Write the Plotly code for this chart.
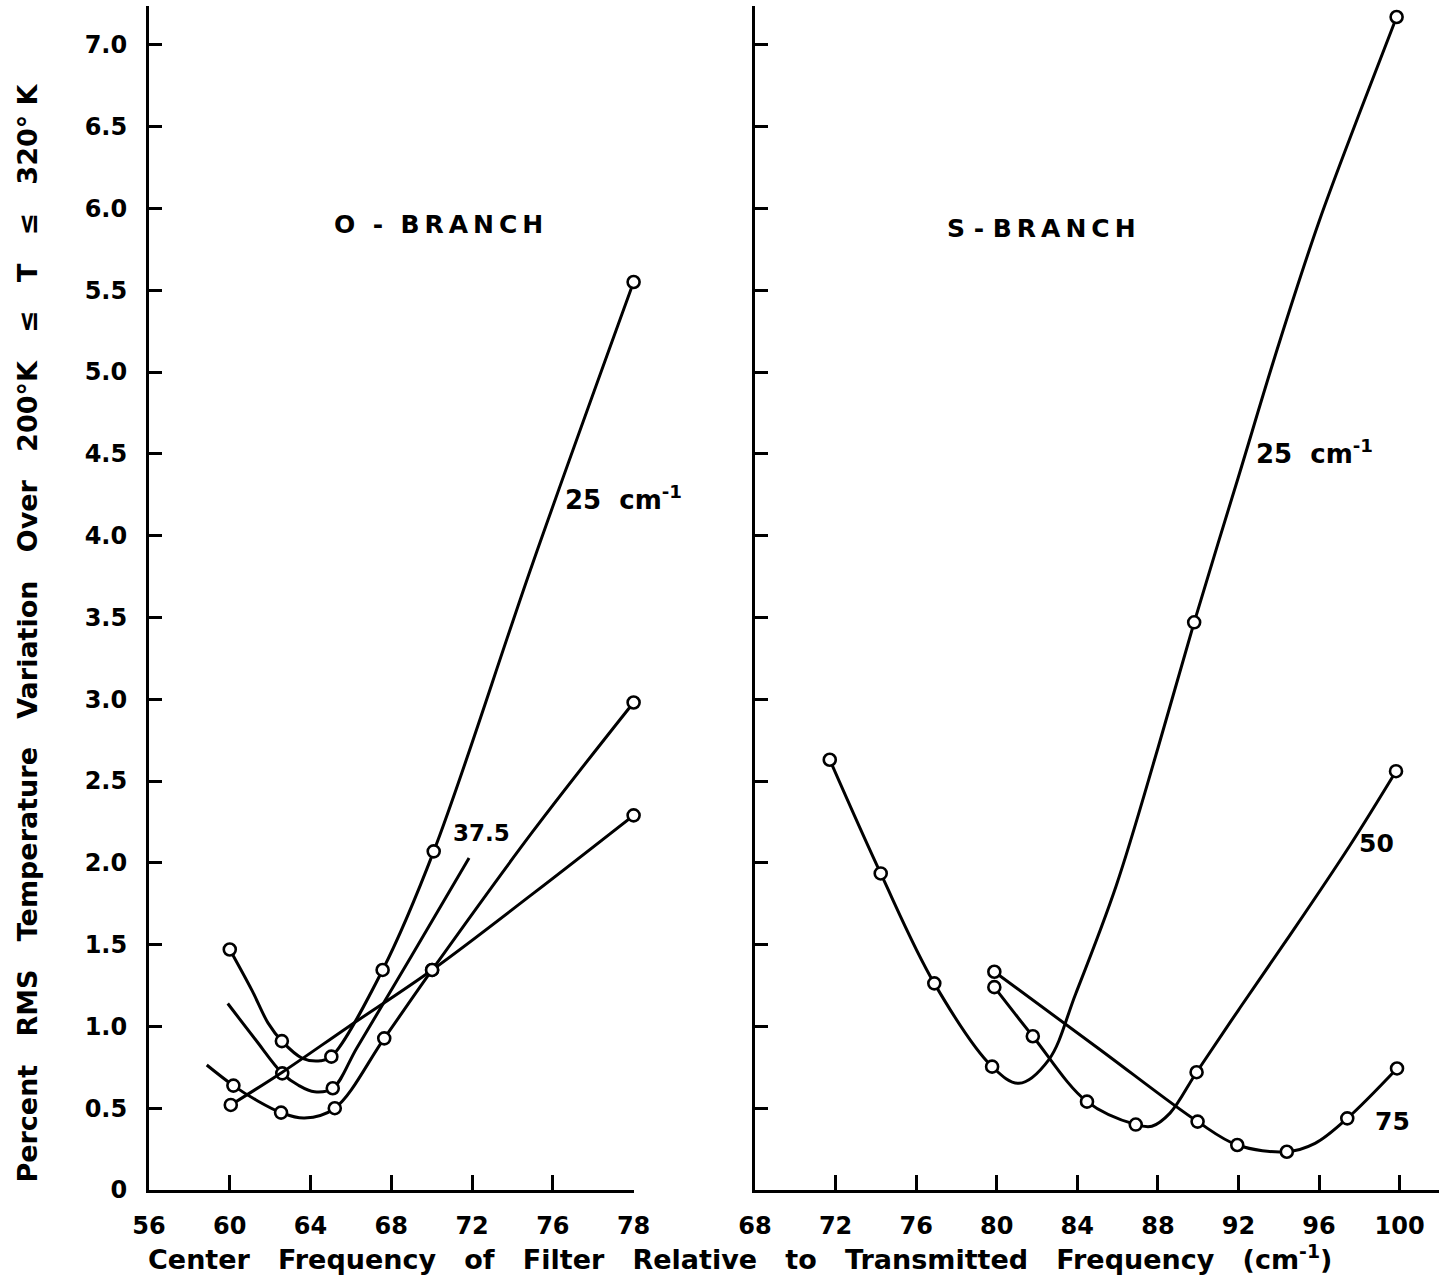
import plotly.graph_objects as go

# ---------------- data ----------------
# axis ticks
o_xticks = [56, 60, 64, 68, 72, 76, 80]
o_xticktext = ["56", "60", "64", "68", "72", "76", "78"]
s_xticks = [68, 72, 76, 80, 84, 88, 92, 96, 100]
s_xticktext = ["68", "72", "76", "80", "84", "88", "92", "96", "100"]
y_ticks = [0, 0.5, 1.0, 1.5, 2.0, 2.5, 3.0, 3.5, 4.0, 4.5, 5.0, 5.5, 6.0, 6.5, 7.0]
y_ticktext = ["0", "0.5", "1.0", "1.5", "2.0", "2.5", "3.0", "3.5", "4.0",
              "4.5", "5.0", "5.5", "6.0", "6.5", "7.0"]

# O-branch, 25 cm-1
o25_x = [60.0, 61.1, 61.9, 62.58, 63.6, 64.5, 65.03, 67.57, 70.1, 75.0, 80.0]
o25_y = [1.47, 1.22, 1.02, 0.91, 0.805, 0.79, 0.815, 1.345, 2.07, 3.83, 5.55]
o25_mx = [60.0, 62.58, 65.03, 67.57, 70.1, 80.0]
o25_my = [1.47, 0.91, 0.815, 1.345, 2.07, 5.55]
# O-branch, 37.5 cm-1
o37_x = [59.9, 61.27, 62.6, 63.4, 64.2, 65.1, 66.3, 69.0, 71.85]
o37_y = [1.14, 0.92, 0.713, 0.64, 0.60, 0.622, 0.87, 1.43, 2.03]
o37_mx = [62.6, 65.1]
o37_my = [0.713, 0.622]
# O-branch, 50 cm-1
o50_x = [58.86, 60.18, 61.3, 62.54, 63.7, 65.2, 67.65, 70.02, 75.0, 80.0]
o50_y = [0.764, 0.638, 0.55, 0.473, 0.44, 0.50, 0.927, 1.345, 2.19, 2.98]
o50_mx = [60.18, 62.54, 65.2, 67.65, 70.02, 80.0]
o50_my = [0.638, 0.473, 0.50, 0.927, 1.345, 2.98]
# O-branch, 75 cm-1
o75_x = [60.05, 62.6, 65.9, 70.02, 75.0, 80.0]
o75_y = [0.52, 0.72, 1.0, 1.345, 1.81, 2.29]
o75_mx = [60.05, 70.02, 80.0]
o75_my = [0.52, 1.345, 2.29]

# S-branch, 25 cm-1
s25_x = [71.71, 74.24, 76.9, 79.77, 81.1, 82.57, 83.92, 85.93, 88.0, 89.8, 92.0, 94.0, 96.0, 98.0, 99.85]
s25_y = [2.63, 1.935, 1.263, 0.754, 0.652, 0.794, 1.20, 1.86, 2.70, 3.47, 4.36, 5.17, 5.92, 6.58, 7.17]
s25_mx = [71.71, 74.24, 76.9, 79.77, 89.8, 99.85]
s25_my = [2.63, 1.935, 1.263, 0.754, 3.47, 7.17]
# S-branch, 50 cm-1
s50_x = [79.88, 81.79, 84.48, 86.9, 87.7, 88.6, 89.92, 92.0, 94.4, 97.5, 99.82]
s50_y = [1.24, 0.94, 0.54, 0.40, 0.39, 0.47, 0.72, 1.10, 1.53, 2.10, 2.56]
s50_mx = [79.88, 81.79, 84.48, 86.9, 89.92, 99.82]
s50_my = [1.24, 0.94, 0.54, 0.40, 0.72, 2.56]
# S-branch, 75 cm-1
s75_x = [79.88, 85.0, 89.97, 91.94, 94.4, 95.8, 97.4, 99.87]
s75_y = [1.334, 0.87, 0.418, 0.275, 0.234, 0.285, 0.438, 0.743]
s75_mx = [79.88, 89.97, 91.94, 94.4, 97.4, 99.87]
s75_my = [1.334, 0.418, 0.275, 0.234, 0.438, 0.743]

# ---------------- figure ----------------
FONT = "DejaVu Sans"
INK = "black"
W, H = 1456, 1286
ML, MB, MT = 149, 96, 6
PW = W - ML

fig = go.Figure()

def add_curve(x, y, mx, my, xa, ya):
    fig.add_trace(go.Scatter(
        x=x, y=y, mode="lines", xaxis=xa, yaxis=ya,
        line=dict(color=INK, width=3, shape="spline", smoothing=1.0),
        hoverinfo="skip", showlegend=False, cliponaxis=False))
    fig.add_trace(go.Scatter(
        x=mx, y=my, mode="markers", xaxis=xa, yaxis=ya,
        marker=dict(symbol="circle", size=12, color="white",
                    line=dict(color=INK, width=2.6)),
        hoverinfo="skip", showlegend=False, cliponaxis=False))

add_curve(o25_x, o25_y, o25_mx, o25_my, "x", "y")
add_curve(o37_x, o37_y, o37_mx, o37_my, "x", "y")
add_curve(o50_x, o50_y, o50_mx, o50_my, "x", "y")
add_curve(o75_x, o75_y, o75_mx, o75_my, "x", "y")
add_curve(s25_x, s25_y, s25_mx, s25_my, "x2", "y2")
add_curve(s50_x, s50_y, s50_mx, s50_my, "x2", "y2")
add_curve(s75_x, s75_y, s75_mx, s75_my, "x2", "y2")

tickfont = dict(family=FONT, size=24, color=INK, weight="bold")
axis_common = dict(showline=True, linewidth=3, linecolor=INK, showgrid=False,
                   zeroline=False, ticks="inside", tickwidth=3, tickcolor=INK,
                   tickfont=tickfont, fixedrange=True)

YTOP = (H - MB - MT) / 163.6
PX_PER_UNIT = 20.41

fig.update_layout(
    width=W, height=H, autosize=False,
    paper_bgcolor="white", plot_bgcolor="white",
    margin=dict(l=ML, r=0, t=MT, b=MB),
    xaxis=dict(domain=[0, (640 - ML) / PW], range=[56, 80], anchor="y",
               tickmode="array", tickvals=o_xticks, ticktext=o_xticktext,
               ticklen=15, ticklabelstandoff=12, **axis_common),
    yaxis=dict(domain=[0, 1], range=[0, YTOP], anchor="x",
               tickmode="array", tickvals=y_ticks, ticktext=y_ticktext,
               ticklen=13, ticklabelstandoff=14, **axis_common),
    xaxis2=dict(domain=[(763 - ML) / PW, 1.0],
                range=[68, 68 + (W - 763) / PX_PER_UNIT], anchor="y2",
                tickmode="array", tickvals=s_xticks, ticktext=s_xticktext,
                ticklen=15, ticklabelstandoff=12, **axis_common),
    yaxis2=dict(domain=[0, 1], range=[0, YTOP], anchor="x2",
                tickmode="array", tickvals=y_ticks, showticklabels=False,
                ticklen=13, **axis_common),
)

def txt(text, x, y, xref, yref, size=23, xanchor="center", yanchor="middle", angle=0):
    fig.add_annotation(text=text, x=x, y=y, xref=xref, yref=yref,
                       showarrow=False, xanchor=xanchor, yanchor=yanchor,
                       textangle=angle,
                       font=dict(family=FONT, size=size, color=INK, weight="bold"))

NB = "\u00a0"
TS = "\u2009"
branch = TS.join("BRANCH")
txt("O" + NB * 2 + "-" + NB * 2 + branch, 70.36, 5.90, "x", "y", size=25)
txt("S" + NB + "-" + NB + branch, 82.2, 5.88, "x2", "y2", size=25)

lab25 = "25" + NB + NB + "cm<sup>-1</sup>"
txt(lab25, 76.5, 4.23, "x", "y", size=26, xanchor="left")
txt("37.5", 72.47, 2.18, "x", "y", size=23)
txt("50", 80.55, 2.97, "x", "y", xanchor="left", size=25)
txt("75", 80.8, 2.32, "x", "y", xanchor="left", size=25)

txt(lab25, 92.75, 4.51, "x2", "y2", size=26, xanchor="left")
txt("50", 98.86, 2.12, "x2", "y2", size=25)
txt("75", 99.66, 0.42, "x2", "y2", size=25)

GAP = " " + NB + NB
ytitle = GAP.join(["Percent", "RMS", "Temperature", "Variation", "Over",
                   "200°K", "≤", "T", "≤", "320°" + NB + "K"])
txt(ytitle, (26 - ML) / PW, (H - MB - 633) / (H - MB - MT), "paper", "paper",
    size=27, angle=-90)

xtitle = GAP.join(["Center", "Frequency", "of", "Filter", "Relative", "to",
                   "Transmitted", "Frequency", "(cm<sup>-1</sup>)"])
txt(xtitle, (748 - ML) / PW, (H - MB - 1257) / (H - MB - MT), "paper", "paper",
    size=27)

fig.write_html("out.html", config={"responsive": False})
